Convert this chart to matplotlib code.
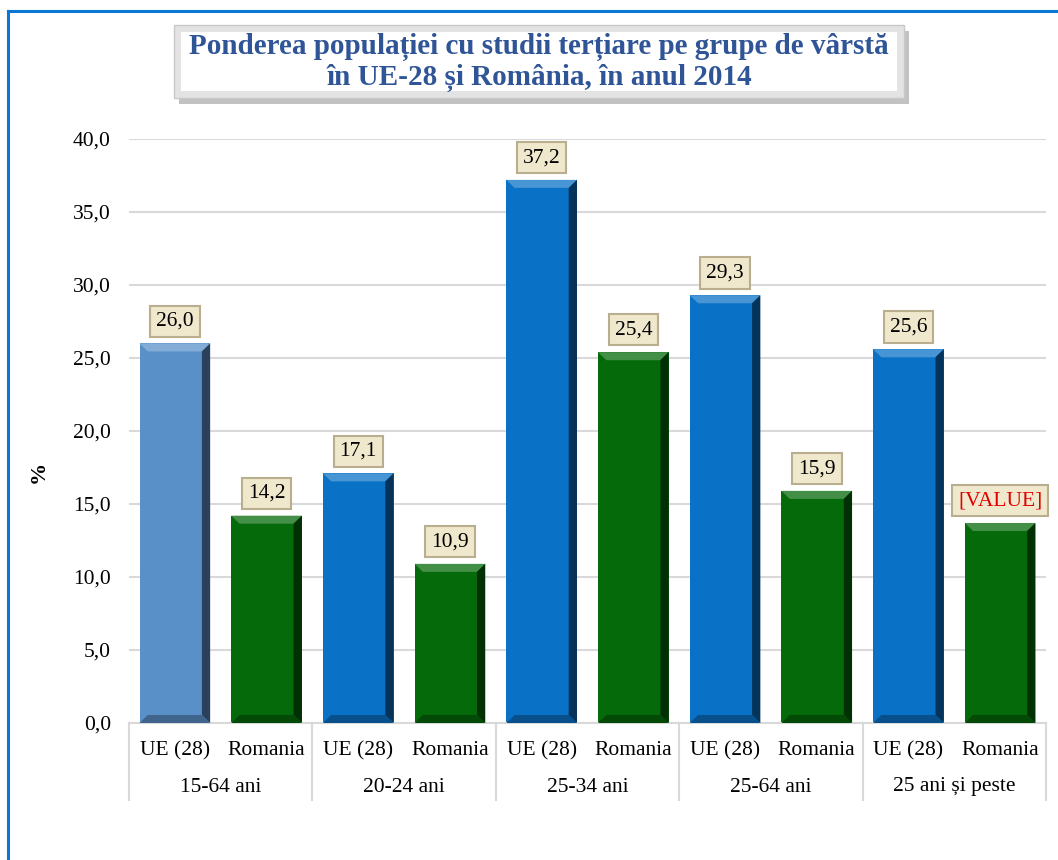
import numpy as np
import matplotlib
matplotlib.use('Agg')
import matplotlib.pyplot as plt
from matplotlib.patches import Polygon, Rectangle
from matplotlib.lines import Line2D
import matplotlib.transforms as mtransforms

# data
groups = ['15-64 ani', '20-24 ani', '25-34 ani', '25-64 ani', '25 ani și peste']
series = ['UE (28)', 'Romania']
ue_vals = [26.0, 17.1, 37.2, 29.3, 25.6]
ro_vals = [14.2, 10.9, 25.4, 15.9, 13.7]
ro_labels = ['14,2', '10,9', '25,4', '15,9', '[VALUE]']
yticks = [0, 5, 10, 15, 20, 25, 30, 35, 40]

title = 'Ponderea populației cu studii terțiare pe grupe de vârstă\nîn UE-28 și România, în anul 2014'

plt.rcParams['font.family'] = ['Liberation Serif', 'DejaVu Serif']

W, H = 1058, 860
fig = plt.figure(figsize=(W / 100, H / 100), dpi=100)
fig.patch.set_facecolor('white')

# outer blue frame (only left and top visible)
fig.add_artist(Line2D([8 / W, 8 / W], [0, 1 - 11 / H], color='#0A78D2', lw=2.2))
fig.add_artist(Line2D([8 / W, 1], [1 - 11 / H, 1 - 11 / H], color='#0A78D2', lw=2.2))

ax = fig.add_axes([129 / W, 1 - 723 / H, (1046 - 129) / W, (723 - 139) / H])
ax.set_ylim(0, 40)
ax.set_xlim(0, 10)
for s in ['top', 'right', 'left']:
    ax.spines[s].set_visible(False)
ax.spines['bottom'].set_color('#D9D9D9')
ax.spines['bottom'].set_linewidth(1.5)
ax.set_yticks(yticks)
ax.set_yticklabels([('%.1f' % v).replace('.', ',') for v in yticks], fontsize=15.5)
ax.tick_params(axis='y', length=0, pad=13)
ax.tick_params(axis='x', length=0, pad=13)
ax.grid(axis='y', color='#D9D9D9', lw=1.5)
ax.set_axisbelow(True)
ax.set_ylabel('%', fontsize=16, fontweight='bold', labelpad=0)
ax.yaxis.set_label_coords(-0.088, 0.43)

x_ue = np.arange(len(groups)) * 2 + 0.5
x_ro = x_ue + 1
w = 0.77
ue_colors = ['#5A90C8'] + ['#0A72C6'] * 4
bars_ue = ax.bar(x_ue, ue_vals, width=w, color=ue_colors, zorder=2)
bars_ro = ax.bar(x_ro, ro_vals, width=w, color='#056A0A', zorder=2)

# bevel look on the bars
dx = 0.09
dy = 0.55
for b in list(bars_ue) + list(bars_ro):
    x0, x1 = b.get_x(), b.get_x() + b.get_width()
    h = b.get_height()
    c = np.array(matplotlib.colors.to_rgb(b.get_facecolor()))
    light = tuple(np.clip(c + (1 - c) * 0.25, 0, 1))
    dark = tuple(c * 0.45)
    mid = tuple(c * 0.7)
    ax.add_patch(Polygon([(x0, h), (x1, h), (x1 - dx, h - dy), (x0 + dx, h - dy)],
                         closed=True, color=light, lw=0, zorder=3))
    ax.add_patch(Polygon([(x1, h), (x1, 0), (x1 - dx, dy), (x1 - dx, h - dy)],
                         closed=True, color=dark, lw=0, zorder=3))
    ax.add_patch(Polygon([(x0, 0), (x1, 0), (x1 - dx, dy), (x0 + dx, dy)],
                         closed=True, color=mid, lw=0, zorder=3))

# value labels
box = dict(boxstyle='square,pad=0.28', fc='#EFE8CC', ec='#B9AF8E', lw=1.5)
for b, v in zip(bars_ue, ue_vals):
    ax.annotate(('%.1f' % v).replace('.', ','), (b.get_x() + b.get_width() / 2, v),
                xytext=(0, 16), textcoords='offset points', ha='center', va='center',
                fontsize=15.5, bbox=box, zorder=5)
for b, v, lab in zip(bars_ro, ro_vals, ro_labels):
    ax.annotate(lab, (b.get_x() + b.get_width() / 2, v),
                xytext=(0, 16), textcoords='offset points', ha='center', va='center',
                fontsize=15.5, bbox=box, zorder=5,
                color='#E00000' if lab.startswith('[') else 'black')

# two-level category axis
ticks = np.sort(np.concatenate([x_ue, x_ro]))
ax.set_xticks(ticks)
ax.set_xticklabels(series * len(groups), fontsize=15.5)
trans = mtransforms.blended_transform_factory(ax.transData, ax.transAxes)
for i, g in enumerate(groups):
    ax.text(i * 2 + 1, -(787 - 723) / 584, g, transform=trans, ha='center', va='center',
            fontsize=15.5)
for k in range(len(groups) + 1):
    ax.add_line(Line2D([k * 2, k * 2], [0, -(800 - 723) / 584], transform=trans,
                       color='#D9D9D9', lw=1.5, clip_on=False))

# title box with shadow
bx0, bx1, by0, by1 = 174, 904, 25, 98
fig.add_artist(Rectangle(((bx0 + 5) / W, 1 - (by1 + 6) / H), (bx1 - bx0) / W, (by1 - by0) / H,
                         transform=fig.transFigure, fc='#9A9A9A', ec='none', alpha=0.6))
fig.add_artist(Rectangle((bx0 / W, 1 - by1 / H), (bx1 - bx0) / W, (by1 - by0) / H,
                         transform=fig.transFigure, fc='#E3E3E3', ec='#C8C8C8', lw=1))
fig.add_artist(Rectangle(((bx0 + 7) / W, 1 - (by1 - 7) / H), (bx1 - bx0 - 14) / W, (by1 - by0 - 14) / H,
                         transform=fig.transFigure, fc='white', ec='none'))
fig.text((bx0 + bx1) / 2 / W, 1 - (by0 + by1 + 2) / 2 / H, title, ha='center', va='center',
         fontsize=21, fontweight='bold', color='#2F5597', linespacing=1.15)

fig.savefig('out.png', dpi=100)
